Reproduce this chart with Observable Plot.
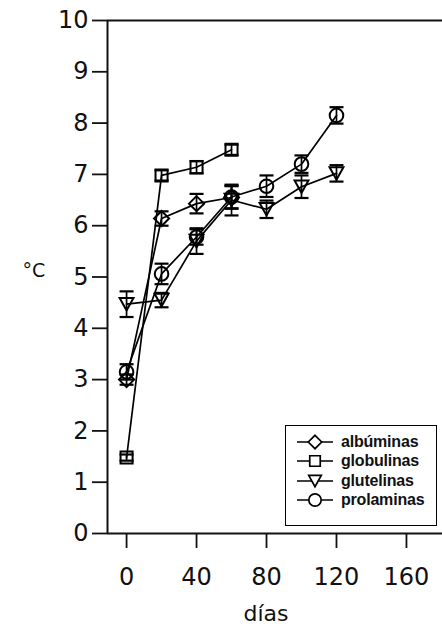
<!DOCTYPE html>
<html>
<head>
<meta charset="utf-8">
<script src="https://cdn.jsdelivr.net/npm/d3@7"></script>
<script src="https://cdn.jsdelivr.net/npm/@observablehq/plot@0.6"></script>
<style>
  body { margin: 0; background: #fff; }
  #wrap { position: relative; width: 442px; height: 634px; font-family: "Liberation Sans", Arial, sans-serif; }
  #legend { position: absolute; left: 285px; top: 425px; width: 152px; height: 101px;
            border: 1.8px solid #000; background: #fff; padding-top: 6px; box-sizing: border-box; }
  .row { display: flex; align-items: center; height: 19.5px; }
  .row svg { margin-left: 10px; }
  .row span { font-size: 16px; font-weight: bold; margin-left: 7px; color: #111; letter-spacing: -0.2px; }
</style>
</head>
<body>
<div id="wrap"></div>
<script>
// Días de almacenamiento y valores medidos (°C) de cada fracción proteica
const days = [0, 20, 40, 60, 80, 100, 120];
const albuminas = [3.0, 6.14, 6.43, 6.55];
const albuminasErr = [0.1, 0.14, 0.19, 0.22];
const globulinas = [1.48, 6.98, 7.14, 7.48];
const globulinasErr = [0.06, 0.1, 0.12, 0.1];
const glutelinas = [4.47, 4.55, 5.7, 6.5, 6.32, 6.76, 7.02];
const glutelinasErr = [0.25, 0.14, 0.25, 0.3, 0.17, 0.22, 0.16];
const prolaminas = [3.15, 5.06, 5.78, 6.56, 6.77, 7.2, 8.15];
const prolaminasErr = [0.15, 0.2, 0.15, 0.22, 0.21, 0.17, 0.16];
const seriesNames = ["albúminas", "globulinas", "glutelinas", "prolaminas"];
const xTicks = [0, 40, 80, 120, 160];
const yTicks = [0, 1, 2, 3, 4, 5, 6, 7, 8, 9, 10];

// Triángulo invertido y barra horizontal (remate de las barras de error)
const triangleDown = {
  draw(ctx, size) {
    const s = Math.sqrt(size) * 1.15;
    const h = s * 0.9;
    ctx.moveTo(-s / 2, -h / 2);
    ctx.lineTo(s / 2, -h / 2);
    ctx.lineTo(0, h / 2);
    ctx.closePath();
  }
};
const cap = {
  draw(ctx, size) {
    const w = 7;
    ctx.moveTo(-w, 0);
    ctx.lineTo(w, 0);
  }
};
const symbols = {
  "albúminas": "diamond2",
  "globulinas": "square",
  "glutelinas": triangleDown,
  "prolaminas": "circle"
};

const values = [albuminas, globulinas, glutelinas, prolaminas];
const errors = [albuminasErr, globulinasErr, glutelinasErr, prolaminasErr];
const rows = seriesNames.flatMap((name, k) =>
  values[k].map((v, i) => ({serie: name, dia: days[i], v, lo: v - errors[k][i], hi: v + errors[k][i]}))
);

const xDomain = [-10.9, 180.6];
const tickFont = "'DejaVu Sans', Verdana, sans-serif";

const marks = [
  Plot.ruleX([xDomain[0]], {strokeWidth: 2}),
  Plot.ruleY([0, 10], {strokeWidth: 2}),
  Plot.axisY({ticks: yTicks, tickSize: 15, tickPadding: 4, strokeWidth: 1.8, fontSize: 24, fontFamily: tickFont}),
  Plot.axisX({ticks: xTicks, tickSize: 15, tickPadding: 19, strokeWidth: 1.8, fontSize: 24, fontFamily: tickFont, label: null}),
  Plot.text(["°C"], {frameAnchor: "left", dx: -85, dy: -6, fontSize: 19, fontFamily: tickFont}),
  Plot.text(["días"], {frameAnchor: "bottom", dx: -9, dy: 87, fontSize: 22, fontFamily: tickFont})
];

for (const name of seriesNames) {
  const data = rows.filter(d => d.serie === name);
  marks.push(
    Plot.line(data, {x: "dia", y: "v", stroke: "#000", strokeWidth: 1.7}),
    Plot.ruleX(data, {x: "dia", y1: "lo", y2: "hi", stroke: "#000", strokeWidth: 1.7}),
    Plot.dot(data, {x: "dia", y: "lo", symbol: () => cap, stroke: "#000", strokeWidth: 2.2}),
    Plot.dot(data, {x: "dia", y: "hi", symbol: () => cap, stroke: "#000", strokeWidth: 2.2}),
    Plot.dot(data, {x: "dia", y: "v", symbol: () => symbols[name], r: 6.8, stroke: "#000", strokeWidth: 2, fill: "none"})
  );
}

const chart = Plot.plot({
  width: 442,
  height: 634,
  marginLeft: 107,
  marginRight: 0,
  marginTop: 20,
  marginBottom: 101,
  style: {fontFamily: "'Liberation Sans', Arial, sans-serif", color: "#111", background: "#fff"},
  symbol: {type: "identity"},
  x: {domain: xDomain, axis: null},
  y: {domain: [0, 10], axis: null},
  marks
});

const wrap = document.getElementById("wrap");
wrap.appendChild(chart);

// Leyenda
const legend = document.createElement("div");
legend.id = "legend";
const legendSymbols = {
  "albúminas": d3.symbol(d3.symbolDiamond2, 115)(),
  "globulinas": d3.symbol(d3.symbolSquare, 110)(),
  "glutelinas": d3.symbol(triangleDown, 120)(),
  "prolaminas": d3.symbol(d3.symbolCircle, 120)()
};
for (const name of seriesNames) {
  const row = document.createElement("div");
  row.className = "row";
  row.innerHTML = `<svg width="38" height="18"><line x1="1" x2="37" y1="9" y2="9" stroke="#000" stroke-width="1.7"/>` +
    `<path d="${legendSymbols[name]}" transform="translate(19,9)" fill="#fff" stroke="#000" stroke-width="1.7"/></svg>` +
    `<span>${name}</span>`;
  legend.appendChild(row);
}
wrap.appendChild(legend);
</script>
</body>
</html>
